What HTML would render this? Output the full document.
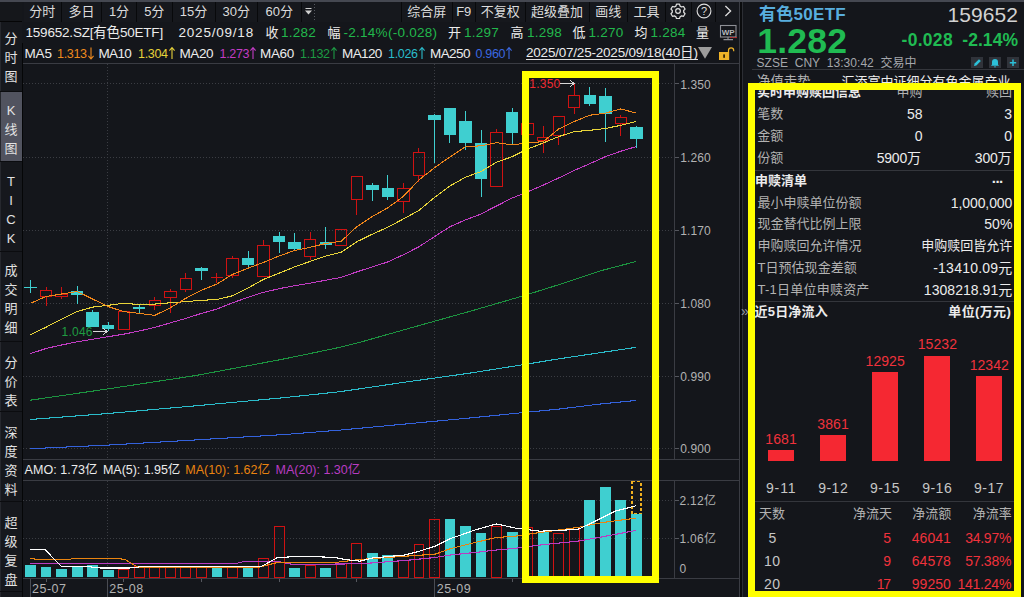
<!DOCTYPE html><html lang="zh"><head><meta charset="utf-8"><title>159652.SZ</title><style>
*{margin:0;padding:0;box-sizing:border-box}
html,body{width:1024px;height:597px;overflow:hidden;background:#14161b}
body{position:relative;font-family:"Liberation Sans","Noto Sans CJK SC",sans-serif;font-size:13px;color:#e6e6e6;line-height:1}
.abs{position:absolute}
.t{position:absolute;white-space:nowrap;line-height:16px;height:16px}
.g{color:#22b84c}.w{color:#ececec}.gy{color:#b2b2b2}.rd{color:#f0323c}
.side{position:absolute;left:0;width:22px;text-align:center;font-size:13px;line-height:19.2px;color:#e2e2e2}
.tb{position:absolute;top:2px;height:20px;line-height:19px;font-size:13px;color:#dcdcdc;text-align:center;border-right:1.5px solid #08090b}
.r{position:absolute;white-space:nowrap;line-height:16px;height:16px;text-align:right}
</style></head><body>
<div class="abs" style="left:0;top:0;width:1024px;height:1.5px;background:#454851"></div>
<div class="abs" style="left:0;top:1.5px;width:22px;height:596px;background:#16181d;border-left:1px solid #26282e"></div>
<div class="abs" style="left:22px;top:43px;width:1px;height:554px;background:#050607"></div>
<div class="abs" style="left:0;top:1.5px;width:22px;height:20px;background:#15171b;border-bottom:1.5px solid #050506"></div>
<div class="abs" style="left:1px;top:92px;width:21px;height:69px;background:#51535f"></div>
<div class="abs" style="left:0;top:91px;width:22px;height:1px;background:#0b0c0f"></div>
<div class="abs" style="left:0;top:161px;width:22px;height:1px;background:#0b0c0f"></div>
<div class="abs" style="left:0;top:251px;width:22px;height:1px;background:#0b0c0f"></div>
<div class="abs" style="left:0;top:341px;width:22px;height:1px;background:#0b0c0f"></div>
<div class="abs" style="left:0;top:411px;width:22px;height:1px;background:#0b0c0f"></div>
<div class="abs" style="left:0;top:501px;width:22px;height:1px;background:#0b0c0f"></div>
<div class="abs" style="left:0;top:591px;width:22px;height:1px;background:#0b0c0f"></div>
<div class="side" style="top:28.7px">分</div>
<div class="side" style="top:48.0px">时</div>
<div class="side" style="top:67.2px">图</div>
<div class="side" style="top:100.8px">K</div>
<div class="side" style="top:119.7px">线</div>
<div class="side" style="top:138.7px">图</div>
<div class="side" style="top:171.8px">T</div>
<div class="side" style="top:191.0px">I</div>
<div class="side" style="top:210.2px">C</div>
<div class="side" style="top:229.4px">K</div>
<div class="side" style="top:260.7px">成</div>
<div class="side" style="top:279.9px">交</div>
<div class="side" style="top:299.1px">明</div>
<div class="side" style="top:318.3px">细</div>
<div class="side" style="top:352.7px">分</div>
<div class="side" style="top:371.9px">价</div>
<div class="side" style="top:391.1px">表</div>
<div class="side" style="top:422.7px">深</div>
<div class="side" style="top:441.9px">度</div>
<div class="side" style="top:461.1px">资</div>
<div class="side" style="top:480.3px">料</div>
<div class="side" style="top:512.7px">超</div>
<div class="side" style="top:531.9px">级</div>
<div class="side" style="top:551.1px">复</div>
<div class="side" style="top:570.3px">盘</div>
<div class="abs" style="left:23.5px;top:1.5px;width:716px;height:20.5px;background:#16181d"></div>
<div class="tb" style="left:23.5px;width:38.5px">分时</div>
<div class="tb" style="left:62px;width:40px">多日</div>
<div class="tb" style="left:102px;width:35px">1分</div>
<div class="tb" style="left:137px;width:35.5px">5分</div>
<div class="tb" style="left:172.5px;width:43.0px">15分</div>
<div class="tb" style="left:215.5px;width:42.5px">30分</div>
<div class="tb" style="left:258px;width:43.5px">60分</div>
<svg class="abs" style="left:302px;top:4px" width="16" height="16"><path d="M3.5 4.5h6" stroke="#d0d0d0" stroke-width="1"/><path d="M3 6.5h7L6.5 10.5z" fill="#d0d0d0"/><line x1="12.5" y1="0" x2="12.5" y2="16" stroke="#55585f" stroke-dasharray="1 2"/></svg>
<div class="abs" style="left:400.5px;top:2px;width:1.5px;height:20px;background:#08090b"></div>
<div class="tb" style="left:402px;width:50.5px">综合屏</div>
<div class="tb" style="left:452.5px;width:23.5px">F9</div>
<div class="tb" style="left:476px;width:49.5px">不复权</div>
<div class="tb" style="left:525.5px;width:64.0px">超级叠加</div>
<div class="tb" style="left:589.5px;width:38.5px">画线</div>
<div class="tb" style="left:628px;width:38px">工具</div>
<div class="tb" style="left:666px;width:25.5px"></div>
<div class="tb" style="left:691.5px;width:24.0px"></div>
<svg class="abs" style="left:670px;top:3px" width="16" height="16" viewBox="-8 -8 16 16"><path fill="none" stroke="#dedede" stroke-width="1.25" stroke-linejoin="round" d="M-1.5-6.8h3l.6 1.9 1.5.85 1.95-.45 1.5 2.6-1.35 1.45v1.7l1.35 1.45-1.5 2.6-1.95-.45-1.5.85-.6 1.9h-3l-.6-1.9-1.5-.85-1.95.45-1.5-2.6 1.35-1.45v-1.7l-1.35-1.45 1.5-2.6 1.95.45 1.5-.85z"/><circle r="2.3" fill="none" stroke="#dedede" stroke-width="1.25"/></svg>
<svg class="abs" style="left:696px;top:3px" width="16" height="16" viewBox="-8 -8 16 16"><circle r="6.9" fill="none" stroke="#dedede" stroke-width="1.1"/><text x="0" y="4" text-anchor="middle" font-family="Liberation Sans, sans-serif" font-size="11" fill="#dedede">?</text></svg>
<svg class="abs" style="left:720px;top:3px" width="16" height="16" viewBox="-8 -8 16 16"><path d="M-2.6-5l5.2 5-5.2 5" fill="none" stroke="#dedede" stroke-width="1.3"/></svg>
<div class="t w" style="left:25.5px;top:25.2px;font-size:13.5px;letter-spacing:-0.20px;">159652.SZ[有色50ETF]</div>
<div class="t w" style="left:178.5px;top:25.2px;font-size:13.5px;letter-spacing:0.79px;">2025/09/18</div>
<div class="t w" style="left:265.5px;top:25.2px;font-size:13px;">收</div>
<div class="t g" style="left:281.0px;top:25.2px;font-size:13.5px;letter-spacing:0.24px;">1.282</div>
<div class="t w" style="left:327.5px;top:25.2px;font-size:13px;">幅</div>
<div class="t g" style="left:343.5px;top:25.2px;font-size:13.5px;letter-spacing:0.27px;">-2.14%(-0.028)</div>
<div class="t w" style="left:448.0px;top:25.2px;font-size:13px;">开</div>
<div class="t g" style="left:464.0px;top:25.2px;font-size:13.5px;letter-spacing:0.24px;">1.297</div>
<div class="t w" style="left:510.5px;top:25.2px;font-size:13px;">高</div>
<div class="t g" style="left:527.0px;top:25.2px;font-size:13.5px;letter-spacing:0.24px;">1.298</div>
<div class="t w" style="left:572.5px;top:25.2px;font-size:13px;">低</div>
<div class="t g" style="left:588.5px;top:25.2px;font-size:13.5px;letter-spacing:0.24px;">1.270</div>
<div class="t w" style="left:634.5px;top:25.2px;font-size:13px;">均</div>
<div class="t g" style="left:650.5px;top:25.2px;font-size:13.5px;letter-spacing:0.24px;">1.284</div>
<div class="t w" style="left:696.0px;top:25.2px;font-size:13px;">量</div>
<div class="t w" style="left:24.5px;top:45.8px;font-size:13.5px;letter-spacing:-0.13px;">MA5</div>
<div class="t " style="left:57.0px;top:45.8px;font-size:12.5px;letter-spacing:-0.32px;color:#ee8a1e">1.313</div>
<svg class="abs" style="left:87.5px;top:46.3px" width="6" height="15"><path d="M3 1.5V13M0.4 9.9L3 13L5.6 9.9" fill="none" stroke="#ee8a1e" stroke-width="1.1"/></svg>
<div class="t w" style="left:98.5px;top:45.8px;font-size:13.5px;letter-spacing:-0.66px;">MA10</div>
<div class="t " style="left:138.0px;top:45.8px;font-size:12.5px;letter-spacing:-0.32px;color:#e6d23a">1.304</div>
<svg class="abs" style="left:168.5px;top:46.3px" width="6" height="15"><path d="M3 1.5V13M0.4 4.6L3 1.5L5.6 4.6" fill="none" stroke="#e6d23a" stroke-width="1.1"/></svg>
<div class="t w" style="left:179.5px;top:45.8px;font-size:13.5px;letter-spacing:-0.43px;">MA20</div>
<div class="t " style="left:219.5px;top:45.8px;font-size:12.5px;letter-spacing:-0.32px;color:#c23cc4">1.273</div>
<svg class="abs" style="left:250.0px;top:46.3px" width="6" height="15"><path d="M3 1.5V13M0.4 4.6L3 1.5L5.6 4.6" fill="none" stroke="#c23cc4" stroke-width="1.1"/></svg>
<div class="t w" style="left:260.0px;top:45.8px;font-size:13.5px;letter-spacing:-0.33px;">MA60</div>
<div class="t " style="left:300.0px;top:45.8px;font-size:12.5px;letter-spacing:-0.32px;color:#1d9a44">1.132</div>
<svg class="abs" style="left:330.5px;top:46.3px" width="6" height="15"><path d="M3 1.5V13M0.4 4.6L3 1.5L5.6 4.6" fill="none" stroke="#1d9a44" stroke-width="1.1"/></svg>
<div class="t w" style="left:342.0px;top:45.8px;font-size:13.5px;letter-spacing:-0.62px;">MA120</div>
<div class="t " style="left:388.0px;top:45.8px;font-size:12.5px;letter-spacing:-0.32px;color:#2bbccb">1.026</div>
<svg class="abs" style="left:418.5px;top:46.3px" width="6" height="15"><path d="M3 1.5V13M0.4 4.6L3 1.5L5.6 4.6" fill="none" stroke="#2bbccb" stroke-width="1.1"/></svg>
<div class="t w" style="left:430.0px;top:45.8px;font-size:13.5px;letter-spacing:-0.57px;">MA250</div>
<div class="t " style="left:475.5px;top:45.8px;font-size:12.5px;letter-spacing:-0.32px;color:#3b68e0">0.960</div>
<svg class="abs" style="left:506.0px;top:46.3px" width="6" height="15"><path d="M3 1.5V13M0.4 4.6L3 1.5L5.6 4.6" fill="none" stroke="#3b68e0" stroke-width="1.1"/></svg>
<div class="t w" style="left:526.0px;top:45.2px;font-size:13.5px;letter-spacing:-0.21px;border-bottom:1px solid #e0e0e0;height:15px;line-height:15px">2025/07/25-2025/09/18(40日)</div>
<svg class="abs" style="left:719px;top:24px" width="20" height="18"><rect x="1.5" y="1.5" width="15.5" height="11.5" fill="none" stroke="#8e9096" stroke-width="1.1"/><text x="9.2" y="10.6" text-anchor="middle" font-family="Liberation Sans, sans-serif" font-weight="bold" font-size="8" fill="#b6b8bd">WP</text><path d="M9 13v2.3M4.5 15.6h9.5" stroke="#8e9096" stroke-width="1.1"/><path d="M11 13.6h7" stroke="#e02020" stroke-width="1" stroke-dasharray="1.6 1"/></svg>
<svg class="abs" style="left:697px;top:46px" width="44" height="16"><path d="M1 1h14l-7 11.8z" fill="#9c9c9c"/><rect x="22" y="6" width="10.2" height="8" fill="#f0b428"/><rect x="26.2" y="8.4" width="1.8" height="3.4" fill="#3a2a08"/><path d="M31.5 6V4.4a2.6 2.6 0 0 1 5.2 0V5.2" fill="none" stroke="#f0b428" stroke-width="1.2"/></svg>
<svg class="abs" style="left:0;top:0" width="742" height="597" viewBox="0 0 742 597"><g shape-rendering="crispEdges">
<line x1="23" y1="83.5" x2="674" y2="83.5" stroke="#3b3d43" stroke-width="1" stroke-dasharray="1 2"/>
<line x1="674" y1="83.5" x2="679" y2="83.5" stroke="#55575e" stroke-width="1"/>
<line x1="23" y1="157.5" x2="674" y2="157.5" stroke="#3b3d43" stroke-width="1" stroke-dasharray="1 2"/>
<line x1="674" y1="157.5" x2="679" y2="157.5" stroke="#55575e" stroke-width="1"/>
<line x1="23" y1="230.5" x2="674" y2="230.5" stroke="#3b3d43" stroke-width="1" stroke-dasharray="1 2"/>
<line x1="674" y1="230.5" x2="679" y2="230.5" stroke="#55575e" stroke-width="1"/>
<line x1="23" y1="303.5" x2="674" y2="303.5" stroke="#3b3d43" stroke-width="1" stroke-dasharray="1 2"/>
<line x1="674" y1="303.5" x2="679" y2="303.5" stroke="#55575e" stroke-width="1"/>
<line x1="23" y1="376.5" x2="674" y2="376.5" stroke="#3b3d43" stroke-width="1" stroke-dasharray="1 2"/>
<line x1="674" y1="376.5" x2="679" y2="376.5" stroke="#55575e" stroke-width="1"/>
<line x1="23" y1="448.5" x2="674" y2="448.5" stroke="#3b3d43" stroke-width="1" stroke-dasharray="1 2"/>
<line x1="674" y1="448.5" x2="679" y2="448.5" stroke="#55575e" stroke-width="1"/>
<line x1="23" y1="500.5" x2="674" y2="500.5" stroke="#3b3d43" stroke-width="1" stroke-dasharray="1 2"/>
<line x1="674" y1="500.5" x2="679" y2="500.5" stroke="#55575e" stroke-width="1"/>
<line x1="23" y1="538.5" x2="674" y2="538.5" stroke="#3b3d43" stroke-width="1" stroke-dasharray="1 2"/>
<line x1="674" y1="538.5" x2="679" y2="538.5" stroke="#55575e" stroke-width="1"/>
<line x1="107.5" y1="64" x2="107.5" y2="458" stroke="#3b3d43" stroke-width="1" stroke-dasharray="1 2"/>
<line x1="107.5" y1="481" x2="107.5" y2="577" stroke="#3b3d43" stroke-width="1" stroke-dasharray="1 2"/>
<line x1="434.5" y1="64" x2="434.5" y2="458" stroke="#3b3d43" stroke-width="1" stroke-dasharray="1 2"/>
<line x1="434.5" y1="481" x2="434.5" y2="577" stroke="#3b3d43" stroke-width="1" stroke-dasharray="1 2"/>
<line x1="23" y1="63.5" x2="739" y2="63.5" stroke="#3a3c43"/>
<line x1="23" y1="459.5" x2="739" y2="459.5" stroke="#3a3c43"/>
<line x1="23" y1="480.5" x2="739" y2="480.5" stroke="#3a3c43"/>
<line x1="23" y1="578.5" x2="739" y2="578.5" stroke="#3a3c43"/>
<line x1="674.5" y1="64" x2="674.5" y2="459" stroke="#3a3c43"/>
<line x1="674.5" y1="481" x2="674.5" y2="578" stroke="#3a3c43"/>
<line x1="46.0" y1="579" x2="46.0" y2="582" stroke="#55575e"/>
<line x1="123.7" y1="579" x2="123.7" y2="582" stroke="#55575e"/>
<line x1="201.4" y1="579" x2="201.4" y2="582" stroke="#55575e"/>
<line x1="279.1" y1="579" x2="279.1" y2="582" stroke="#55575e"/>
<line x1="356.7" y1="579" x2="356.7" y2="582" stroke="#55575e"/>
<line x1="512.1" y1="579" x2="512.1" y2="582" stroke="#55575e"/>
<line x1="589.8" y1="579" x2="589.8" y2="582" stroke="#55575e"/>
<line x1="30.5" y1="579" x2="30.5" y2="597" stroke="#4a4c53"/>
<line x1="107.5" y1="579" x2="107.5" y2="597" stroke="#4a4c53"/>
<line x1="434.5" y1="579" x2="434.5" y2="597" stroke="#4a4c53"/>
<polyline fill="none" stroke="#3462dc" stroke-width="1.05" stroke-linejoin="round" points="30.5,448.7 107.9,445.1 195.8,439.9 283.7,434.6 340.0,430.1 405.4,424.0 470.7,417.9 523.0,412.6 557.9,409.2 601.4,403.9 636.3,400.4"/>
<polyline fill="none" stroke="#2bbccb" stroke-width="1.05" stroke-linejoin="round" points="30.5,419.5 107.9,413.5 195.8,405.8 283.7,397.7 340.0,391.7 405.4,382.1 470.7,373.0 523.0,364.7 557.9,359.0 601.4,352.5 636.3,347.3"/>
<polyline fill="none" stroke="#1c9440" stroke-width="1.05" stroke-linejoin="round" points="30.1,400.2 107.9,388.9 195.8,375.5 283.7,359.0 340.0,347.3 360.0,342.3 405.4,329.4 470.7,311.1 523.0,295.9 557.9,285.0 601.4,270.6 636.3,261.4"/>
<polyline fill="none" stroke="#c23cc4" stroke-width="1.05" stroke-linejoin="round" points="30.5,353.6 46.0,348.5 61.6,345.0 77.1,341.8 92.6,339.2 108.2,336.7 123.7,334.2 139.2,331.0 154.8,327.4 170.3,322.9 185.8,318.4 201.4,313.4 216.9,309.1 232.5,302.8 248.0,297.3 263.5,292.3 279.1,288.7 294.6,285.7 310.1,283.2 325.7,280.2 341.2,277.4 356.7,271.9 372.3,266.9 387.8,261.9 403.3,254.8 418.9,246.8 434.4,236.7 449.9,226.7 465.5,219.9 481.0,214.0 496.6,205.9 512.1,198.1 527.6,191.9 543.2,185.1 558.7,178.0 574.2,170.5 589.8,163.7 605.3,156.7 620.8,151.2 636.4,146.6"/>
<g shape-rendering="crispEdges">
<line x1="30.5" y1="280.2" x2="30.5" y2="292.8" stroke="#3fcfd0" stroke-width="1"/>
<rect x="24.3" y="286.6" width="12.4" height="1.0" fill="#3fcfd0"/>
<line x1="46.0" y1="286.5" x2="46.0" y2="290.3" stroke="#cf1212" stroke-width="1"/>
<line x1="46.0" y1="297.3" x2="46.0" y2="305.8" stroke="#cf1212" stroke-width="1"/>
<rect x="40.3" y="290.8" width="11.4" height="6.0" fill="none" stroke="#cf1212" stroke-width="1"/>
<line x1="61.6" y1="287.2" x2="61.6" y2="293.5" stroke="#cf1212" stroke-width="1"/>
<line x1="61.6" y1="296.5" x2="61.6" y2="299.0" stroke="#cf1212" stroke-width="1"/>
<rect x="55.9" y="294.0" width="11.4" height="2.0" fill="none" stroke="#cf1212" stroke-width="1"/>
<line x1="77.1" y1="286.0" x2="77.1" y2="303.6" stroke="#3fcfd0" stroke-width="1"/>
<rect x="70.9" y="291.0" width="12.4" height="3.5" fill="#3fcfd0"/>
<line x1="92.6" y1="310.4" x2="92.6" y2="327.2" stroke="#3fcfd0" stroke-width="1"/>
<rect x="86.4" y="312.1" width="12.4" height="15.1" fill="#3fcfd0"/>
<line x1="108.2" y1="321.7" x2="108.2" y2="331.0" stroke="#3fcfd0" stroke-width="1"/>
<rect x="102.0" y="325.4" width="12.4" height="3.6" fill="#3fcfd0"/>
<rect x="118.0" y="311.6" width="11.4" height="17.6" fill="none" stroke="#cf1212" stroke-width="1"/>
<line x1="139.2" y1="304.6" x2="139.2" y2="312.5" stroke="#3fcfd0" stroke-width="1"/>
<rect x="133.0" y="307.4" width="12.4" height="1.2" fill="#3fcfd0"/>
<line x1="154.8" y1="297.3" x2="154.8" y2="299.5" stroke="#cf1212" stroke-width="1"/>
<line x1="154.8" y1="305.8" x2="154.8" y2="309.6" stroke="#cf1212" stroke-width="1"/>
<rect x="149.1" y="300.0" width="11.4" height="5.3" fill="none" stroke="#cf1212" stroke-width="1"/>
<line x1="170.3" y1="289.0" x2="170.3" y2="290.5" stroke="#cf1212" stroke-width="1"/>
<line x1="170.3" y1="298.3" x2="170.3" y2="312.9" stroke="#cf1212" stroke-width="1"/>
<rect x="164.6" y="291.0" width="11.4" height="6.8" fill="none" stroke="#cf1212" stroke-width="1"/>
<line x1="185.8" y1="273.2" x2="185.8" y2="278.4" stroke="#cf1212" stroke-width="1"/>
<line x1="185.8" y1="289.5" x2="185.8" y2="292.0" stroke="#cf1212" stroke-width="1"/>
<rect x="180.2" y="278.9" width="11.4" height="10.1" fill="none" stroke="#cf1212" stroke-width="1"/>
<line x1="201.4" y1="267.1" x2="201.4" y2="279.7" stroke="#3fcfd0" stroke-width="1"/>
<rect x="195.2" y="268.1" width="12.4" height="3.1" fill="#3fcfd0"/>
<line x1="216.9" y1="273.2" x2="216.9" y2="276.6" stroke="#cf1212" stroke-width="1"/>
<line x1="216.9" y1="277.4" x2="216.9" y2="282.7" stroke="#cf1212" stroke-width="1"/>
<line x1="210.7" y1="277.0" x2="223.1" y2="277.0" stroke="#cf1212" stroke-width="1"/>
<line x1="232.5" y1="255.8" x2="232.5" y2="257.6" stroke="#cf1212" stroke-width="1"/>
<line x1="232.5" y1="275.7" x2="232.5" y2="277.7" stroke="#cf1212" stroke-width="1"/>
<rect x="226.8" y="258.1" width="11.4" height="17.1" fill="none" stroke="#cf1212" stroke-width="1"/>
<line x1="248.0" y1="251.2" x2="248.0" y2="266.9" stroke="#3fcfd0" stroke-width="1"/>
<rect x="241.8" y="258.1" width="12.4" height="6.6" fill="#3fcfd0"/>
<line x1="263.5" y1="240.0" x2="263.5" y2="245.2" stroke="#cf1212" stroke-width="1"/>
<rect x="257.8" y="245.7" width="11.4" height="30.4" fill="none" stroke="#cf1212" stroke-width="1"/>
<line x1="279.1" y1="232.2" x2="279.1" y2="253.0" stroke="#3fcfd0" stroke-width="1"/>
<rect x="272.9" y="236.0" width="12.4" height="5.8" fill="#3fcfd0"/>
<line x1="294.6" y1="233.0" x2="294.6" y2="250.5" stroke="#3fcfd0" stroke-width="1"/>
<rect x="288.4" y="241.8" width="12.4" height="6.7" fill="#3fcfd0"/>
<line x1="310.1" y1="232.2" x2="310.1" y2="239.2" stroke="#cf1212" stroke-width="1"/>
<line x1="310.1" y1="257.3" x2="310.1" y2="260.0" stroke="#cf1212" stroke-width="1"/>
<rect x="304.4" y="239.7" width="11.4" height="17.1" fill="none" stroke="#cf1212" stroke-width="1"/>
<line x1="325.7" y1="226.7" x2="325.7" y2="249.3" stroke="#3fcfd0" stroke-width="1"/>
<rect x="319.5" y="241.8" width="12.4" height="3.0" fill="#3fcfd0"/>
<rect x="335.5" y="229.7" width="11.4" height="16.1" fill="none" stroke="#cf1212" stroke-width="1"/>
<line x1="356.7" y1="200.3" x2="356.7" y2="215.4" stroke="#cf1212" stroke-width="1"/>
<rect x="351.0" y="176.9" width="11.4" height="22.9" fill="none" stroke="#cf1212" stroke-width="1"/>
<line x1="372.3" y1="182.7" x2="372.3" y2="200.8" stroke="#3fcfd0" stroke-width="1"/>
<rect x="366.1" y="185.2" width="12.4" height="4.5" fill="#3fcfd0"/>
<line x1="387.8" y1="175.2" x2="387.8" y2="199.8" stroke="#3fcfd0" stroke-width="1"/>
<rect x="381.6" y="187.7" width="12.4" height="9.1" fill="#3fcfd0"/>
<line x1="403.3" y1="183.1" x2="403.3" y2="188.2" stroke="#cf1212" stroke-width="1"/>
<line x1="403.3" y1="202.3" x2="403.3" y2="212.7" stroke="#cf1212" stroke-width="1"/>
<rect x="397.6" y="188.7" width="11.4" height="13.1" fill="none" stroke="#cf1212" stroke-width="1"/>
<line x1="418.9" y1="148.0" x2="418.9" y2="152.1" stroke="#cf1212" stroke-width="1"/>
<line x1="418.9" y1="176.2" x2="418.9" y2="181.5" stroke="#cf1212" stroke-width="1"/>
<rect x="413.2" y="152.6" width="11.4" height="23.1" fill="none" stroke="#cf1212" stroke-width="1"/>
<line x1="434.4" y1="114.0" x2="434.4" y2="163.0" stroke="#3fcfd0" stroke-width="1"/>
<rect x="428.2" y="115.2" width="12.4" height="4.5" fill="#3fcfd0"/>
<line x1="449.9" y1="108.2" x2="449.9" y2="142.9" stroke="#3fcfd0" stroke-width="1"/>
<rect x="443.7" y="108.2" width="12.4" height="26.4" fill="#3fcfd0"/>
<line x1="465.5" y1="111.0" x2="465.5" y2="150.4" stroke="#3fcfd0" stroke-width="1"/>
<rect x="459.3" y="121.0" width="12.4" height="21.9" fill="#3fcfd0"/>
<line x1="481.0" y1="129.8" x2="481.0" y2="196.9" stroke="#3fcfd0" stroke-width="1"/>
<rect x="474.8" y="143.4" width="12.4" height="35.1" fill="#3fcfd0"/>
<line x1="496.6" y1="129.0" x2="496.6" y2="132.3" stroke="#cf1212" stroke-width="1"/>
<rect x="490.9" y="132.8" width="11.4" height="54.0" fill="none" stroke="#cf1212" stroke-width="1"/>
<line x1="512.1" y1="107.7" x2="512.1" y2="144.1" stroke="#3fcfd0" stroke-width="1"/>
<rect x="505.9" y="112.0" width="12.4" height="21.3" fill="#3fcfd0"/>
<line x1="527.6" y1="120.0" x2="527.6" y2="123.3" stroke="#cf1212" stroke-width="1"/>
<line x1="527.6" y1="134.6" x2="527.6" y2="138.0" stroke="#cf1212" stroke-width="1"/>
<rect x="521.9" y="123.8" width="11.4" height="10.3" fill="none" stroke="#cf1212" stroke-width="1"/>
<line x1="543.2" y1="125.8" x2="543.2" y2="137.3" stroke="#cf1212" stroke-width="1"/>
<line x1="543.2" y1="140.9" x2="543.2" y2="152.9" stroke="#cf1212" stroke-width="1"/>
<rect x="537.5" y="137.8" width="11.4" height="2.6" fill="none" stroke="#cf1212" stroke-width="1"/>
<line x1="558.7" y1="136.1" x2="558.7" y2="144.9" stroke="#cf1212" stroke-width="1"/>
<rect x="553.0" y="116.7" width="11.4" height="18.9" fill="none" stroke="#cf1212" stroke-width="1"/>
<line x1="574.2" y1="83.0" x2="574.2" y2="95.1" stroke="#cf1212" stroke-width="1"/>
<line x1="574.2" y1="108.4" x2="574.2" y2="114.0" stroke="#cf1212" stroke-width="1"/>
<rect x="568.5" y="95.6" width="11.4" height="12.3" fill="none" stroke="#cf1212" stroke-width="1"/>
<line x1="589.8" y1="87.1" x2="589.8" y2="105.9" stroke="#3fcfd0" stroke-width="1"/>
<rect x="583.6" y="95.1" width="12.4" height="8.8" fill="#3fcfd0"/>
<line x1="605.3" y1="88.1" x2="605.3" y2="142.1" stroke="#3fcfd0" stroke-width="1"/>
<rect x="599.1" y="95.9" width="12.4" height="17.6" fill="#3fcfd0"/>
<line x1="620.8" y1="114.7" x2="620.8" y2="116.5" stroke="#cf1212" stroke-width="1"/>
<line x1="620.8" y1="123.5" x2="620.8" y2="135.8" stroke="#cf1212" stroke-width="1"/>
<rect x="615.1" y="117.0" width="11.4" height="6.0" fill="none" stroke="#cf1212" stroke-width="1"/>
<line x1="636.4" y1="125.8" x2="636.4" y2="148.4" stroke="#3fcfd0" stroke-width="1"/>
<rect x="630.2" y="127.3" width="12.4" height="11.3" fill="#3fcfd0"/>
</g>
<polyline fill="none" stroke="#e9d53a" stroke-width="1.05" stroke-linejoin="round" points="30.5,334.7 46.0,327.2 61.6,319.1 77.1,311.6 92.6,307.1 108.2,305.3 123.7,303.3 139.2,304.6 154.8,304.1 170.3,302.8 185.8,301.6 201.4,300.3 216.9,299.5 232.5,295.8 248.0,288.0 263.5,279.4 279.1,273.2 294.6,266.9 310.1,261.4 325.7,256.1 341.2,252.3 356.7,241.8 372.3,234.2 387.8,227.2 403.3,219.0 418.9,210.5 434.4,197.5 449.9,186.0 465.5,177.2 481.0,171.6 496.6,162.2 512.1,156.7 527.6,149.1 543.2,142.9 558.7,136.6 574.2,131.6 589.8,130.3 605.3,128.5 620.8,125.3 636.4,121.5"/>
<polyline fill="none" stroke="#f0861a" stroke-width="1.05" stroke-linejoin="round" points="30.5,303.3 46.0,296.5 61.6,294.0 77.1,291.5 92.6,299.0 108.2,306.6 123.7,311.6 139.2,313.4 154.8,315.4 170.3,307.8 185.8,298.3 201.4,290.3 216.9,284.0 232.5,274.4 248.0,268.2 263.5,262.4 279.1,256.0 294.6,250.5 310.1,247.3 325.7,243.5 341.2,241.3 356.7,226.7 372.3,216.6 387.8,207.8 403.3,196.5 418.9,180.0 434.4,167.8 449.9,157.0 465.5,146.8 481.0,145.8 496.6,142.7 512.1,144.9 527.6,142.9 543.2,141.6 558.7,129.0 574.2,121.5 589.8,115.2 605.3,113.2 620.8,108.9 636.4,113.2"/>
<path d="M92.5 331.5H107M103 328l4 3.5l-4 3.5" fill="none" stroke="#d8d8d8" stroke-width="1"/>
<path d="M559.5 83.5H574M570 80l4 3.5l-4 3.5" fill="none" stroke="#d8d8d8" stroke-width="1"/>
<g shape-rendering="crispEdges">
<rect x="25.1" y="565.0" width="10.8" height="12.0" fill="#3fcfd0"/>
<rect x="40.6" y="566.8" width="10.8" height="10.2" fill="#3fcfd0"/>
<rect x="56.2" y="569.0" width="10.8" height="8.0" fill="#3fcfd0"/>
<rect x="71.7" y="566.8" width="10.8" height="10.2" fill="#3fcfd0"/>
<rect x="87.2" y="565.0" width="10.8" height="12.0" fill="#3fcfd0"/>
<rect x="102.8" y="570.0" width="10.8" height="7.0" fill="#3fcfd0"/>
<rect x="118.8" y="569.8" width="9.8" height="7.2" fill="none" stroke="#cf1212" stroke-width="1"/>
<rect x="134.3" y="566.0" width="9.8" height="11.0" fill="none" stroke="#cf1212" stroke-width="1"/>
<rect x="149.9" y="566.8" width="9.8" height="10.2" fill="none" stroke="#cf1212" stroke-width="1"/>
<rect x="165.4" y="567.5" width="9.8" height="9.5" fill="none" stroke="#cf1212" stroke-width="1"/>
<rect x="180.9" y="567.5" width="9.8" height="9.5" fill="none" stroke="#cf1212" stroke-width="1"/>
<rect x="196.5" y="567.5" width="9.8" height="9.5" fill="none" stroke="#cf1212" stroke-width="1"/>
<rect x="211.5" y="567.5" width="10.8" height="9.5" fill="#3fcfd0"/>
<rect x="227.6" y="567.5" width="9.8" height="9.5" fill="none" stroke="#cf1212" stroke-width="1"/>
<rect x="242.6" y="567.5" width="10.8" height="9.5" fill="#3fcfd0"/>
<rect x="258.6" y="558.0" width="9.8" height="19.0" fill="none" stroke="#cf1212" stroke-width="1"/>
<rect x="274.2" y="526.8" width="9.8" height="50.2" fill="none" stroke="#cf1212" stroke-width="1"/>
<rect x="289.2" y="568.0" width="10.8" height="9.0" fill="#3fcfd0"/>
<rect x="305.2" y="565.0" width="9.8" height="12.0" fill="none" stroke="#cf1212" stroke-width="1"/>
<rect x="320.3" y="568.0" width="10.8" height="9.0" fill="#3fcfd0"/>
<rect x="336.3" y="563.8" width="9.8" height="13.2" fill="none" stroke="#cf1212" stroke-width="1"/>
<rect x="351.8" y="543.8" width="9.8" height="33.2" fill="none" stroke="#cf1212" stroke-width="1"/>
<rect x="366.9" y="553.0" width="10.8" height="24.0" fill="#3fcfd0"/>
<rect x="382.4" y="555.0" width="10.8" height="22.0" fill="#3fcfd0"/>
<rect x="398.4" y="560.5" width="9.8" height="16.5" fill="none" stroke="#cf1212" stroke-width="1"/>
<rect x="414.0" y="544.8" width="9.8" height="32.2" fill="none" stroke="#cf1212" stroke-width="1"/>
<rect x="429.5" y="519.8" width="9.8" height="57.2" fill="none" stroke="#cf1212" stroke-width="1"/>
<rect x="444.5" y="518.8" width="10.8" height="58.2" fill="#3fcfd0"/>
<rect x="460.1" y="525.8" width="10.8" height="51.2" fill="#3fcfd0"/>
<rect x="475.6" y="532.5" width="10.8" height="44.5" fill="#3fcfd0"/>
<rect x="491.7" y="526.8" width="9.8" height="50.2" fill="none" stroke="#cf1212" stroke-width="1"/>
<rect x="506.7" y="531.8" width="10.8" height="45.2" fill="#3fcfd0"/>
<rect x="522.7" y="527.5" width="9.8" height="49.5" fill="none" stroke="#cf1212" stroke-width="1"/>
<rect x="537.8" y="531.2" width="10.8" height="45.8" fill="#3fcfd0"/>
<rect x="553.8" y="533.8" width="9.8" height="43.2" fill="none" stroke="#cf1212" stroke-width="1"/>
<rect x="569.3" y="529.2" width="9.8" height="47.8" fill="none" stroke="#cf1212" stroke-width="1"/>
<rect x="584.4" y="500.0" width="10.8" height="77.0" fill="#3fcfd0"/>
<rect x="599.9" y="486.8" width="10.8" height="90.2" fill="#3fcfd0"/>
<rect x="615.4" y="500.0" width="10.8" height="77.0" fill="#3fcfd0"/>
<rect x="631.0" y="513.8" width="10.8" height="63.2" fill="#3fcfd0"/>
<rect x="632" y="481.5" width="9" height="32" fill="none" stroke="#f0b020" stroke-width="1.3" stroke-dasharray="3 2"/>
</g>
<polyline fill="none" stroke="#b93cc2" stroke-width="1.1" stroke-linejoin="round" points="30.0,563.2 237.5,563.2 242.5,561.8 265.0,561.8 277.5,561.2 292.5,564.5 360.0,563.8 405.0,560.5 435.0,557.5 450.0,555.0 475.0,552.5 496.2,550.0 516.0,548.2 540.0,545.0 577.5,541.2 602.5,536.8 635.8,530.5"/>
<polyline fill="none" stroke="#ea8410" stroke-width="1.1" stroke-linejoin="round" points="30.0,558.2 37.5,559.5 70.0,559.5 72.5,558.2 115.0,558.2 125.0,559.5 137.5,567.0 260.0,567.0 277.5,562.5 335.0,562.5 360.0,559.5 405.0,556.2 435.0,554.2 450.0,548.8 475.0,542.5 496.2,537.5 515.0,536.2 540.0,532.5 577.5,527.5 602.5,522.5 635.8,518.2"/>
<polyline fill="none" stroke="#ffffff" stroke-width="1.1" stroke-linejoin="round" points="30.0,549.2 45.0,549.2 53.0,558.0 61.2,566.2 85.0,566.2 100.0,568.0 130.0,568.0 145.0,566.2 160.0,566.8 260.0,566.8 264.0,565.0 277.5,557.5 305.0,556.2 335.0,557.5 345.0,559.5 360.0,561.2 372.5,558.0 405.0,555.0 420.0,551.0 435.0,546.2 450.0,538.8 475.0,530.0 496.2,523.9 515.0,528.0 540.0,531.2 577.5,529.5 590.0,523.8 615.0,511.2 635.8,505.8"/>
<rect x="525.7" y="74.6" width="129.8" height="504.8" fill="none" stroke="#ffff00" stroke-width="7.4"/>
</svg>
<div class="t gy" style="left:680.2px;top:76.5px;font-size:12px;letter-spacing:0.14px;">1.350</div>
<div class="t gy" style="left:680.2px;top:150.4px;font-size:12px;letter-spacing:0.14px;">1.260</div>
<div class="t gy" style="left:680.2px;top:223.4px;font-size:12px;letter-spacing:0.14px;">1.170</div>
<div class="t gy" style="left:680.2px;top:296.3px;font-size:12px;letter-spacing:0.14px;">1.080</div>
<div class="t gy" style="left:680.2px;top:369.3px;font-size:12px;letter-spacing:0.14px;">0.990</div>
<div class="t gy" style="left:680.2px;top:441.2px;font-size:12px;letter-spacing:0.14px;">0.900</div>
<div class="t gy" style="left:679.5px;top:493.3px;font-size:12px;letter-spacing:0.29px;">2.12亿</div>
<div class="t gy" style="left:679.5px;top:531.3px;font-size:12px;letter-spacing:0.29px;">1.06亿</div>
<div class="t gy" style="left:679.5px;top:561.4px;font-size:12px;">0</div>
<div class="t " style="left:61.5px;top:323.7px;font-size:12px;letter-spacing:0.24px;color:#1f9c42">1.046</div>
<div class="t " style="left:529.3px;top:75.6px;font-size:12px;letter-spacing:0.24px;color:#f02a32">1.350</div>
<div class="t gy" style="left:32.0px;top:580.7px;font-size:12.5px;letter-spacing:0.50px;">25-07</div>
<div class="t gy" style="left:109.2px;top:580.7px;font-size:12.5px;letter-spacing:0.50px;">25-08</div>
<div class="t gy" style="left:436.7px;top:580.7px;font-size:12.5px;letter-spacing:0.50px;">25-09</div>
<div class="t w" style="left:24.5px;top:461.8px;font-size:12.5px;letter-spacing:0.08px;">AMO: 1.73亿</div>
<div class="t w" style="left:103.0px;top:461.8px;font-size:12.5px;letter-spacing:-0.04px;">MA(5): 1.95亿</div>
<div class="t " style="left:185.3px;top:461.8px;font-size:12.5px;letter-spacing:-0.01px;color:#ea8410">MA(10): 1.62亿</div>
<div class="t " style="left:275.6px;top:461.8px;font-size:12.5px;letter-spacing:-0.01px;color:#b93cc2">MA(20): 1.30亿</div>
<div class="abs" style="left:739px;top:1.5px;width:1px;height:596px;background:#3a3c43"></div>
<div class="abs" style="left:740px;top:1.5px;width:1.5px;height:596px;background:#0a0b0d"></div>
<div class="abs" style="left:741.5px;top:1.5px;width:1px;height:596px;background:#2c2e34"></div>
<div class="t" style="left:759.0px;top:4px;height:22px;line-height:22px;font-size:17px;font-weight:bold;color:#58aede;letter-spacing:0.29px;">有色50ETF</div>
<div class="r" style="right:5.9px;top:3px;height:24px;line-height:24px;font-size:21px;color:#d2d2d2;letter-spacing:0.08px;">159652</div>
<div class="t" style="left:757.3px;top:22.5px;height:36px;line-height:36px;font-size:35.5px;font-weight:bold;color:#20bb52;letter-spacing:0.21px;">1.282</div>
<div class="t" style="left:901.5px;top:31px;height:18px;line-height:18px;font-size:17.5px;font-weight:bold;color:#20bb52;letter-spacing:0.30px;">-0.028</div>
<div class="r" style="right:6.0px;top:31px;height:18px;line-height:18px;font-size:17.5px;font-weight:bold;color:#20bb52;letter-spacing:0.03px;">-2.14%</div>
<div class="t " style="left:756.5px;top:54.6px;font-size:12px;letter-spacing:0.03px;color:#a4a6ab">SZSE&nbsp; CNY&nbsp; 13:30:42&nbsp; 交易中</div>
<svg class="abs" style="left:971px;top:56.5px" width="12" height="11.5"><rect width="12" height="11.5" fill="#30333a"/><path d="M3 9l.6-2.4L8 2.2l1.8 1.8L5.4 8.4z" fill="#2cc0d8"/></svg>
<svg class="abs" style="left:988.5px;top:56.5px" width="12" height="11.5"><rect width="12" height="11.5" fill="#30333a"/><path d="M6 2a3 3 0 0 1 3 3v2.6l1 1.2H2l1-1.2V5a3 3 0 0 1 3-3zM5 9.4h2v.9H5z" fill="#2cc0d8"/></svg>
<svg class="abs" style="left:1006.5px;top:56.5px" width="12" height="11.5"><rect width="12" height="11.5" fill="#30333a"/><path d="M6 2.6v6.4M2.8 5.8h6.4" stroke="#2cc0d8" stroke-width="1.5"/></svg>
<div class="abs" style="left:751.5px;top:68.5px;width:272.5px;height:1px;background:#34363c"></div>
<div class="abs" style="left:742px;top:70px;width:282px;height:14px;overflow:hidden"><div class="t gy" style="left:15px;top:3.7px;font-size:13.4px">净值走势</div><div class="r w" style="right:13.5px;top:3.7px;font-size:13px">汇添富中证细分有色金属产业</div></div>
<div class="abs" style="left:742px;top:90px;width:282px;height:507px;overflow:hidden">
<div class="t w" style="left:15.0px;top:-5.7px;font-size:13px;font-weight:bold">实时申购赎回信息</div>
<div class="r gy" style="right:101.5px;top:-5.7px;font-size:13px;">申购</div>
<div class="r gy" style="right:12.0px;top:-5.7px;font-size:13px;">赎回</div>
<div class="t gy" style="left:15.2px;top:16.3px;font-size:13px;">笔数</div>
<div class="r w" style="right:101.6px;top:16.3px;font-size:14px;letter-spacing:-0.08px;">58</div>
<div class="r w" style="right:12.0px;top:16.3px;font-size:14px;">3</div>
<div class="t gy" style="left:15.2px;top:38.4px;font-size:13px;">金额</div>
<div class="r w" style="right:101.5px;top:38.4px;font-size:14px;">0</div>
<div class="r w" style="right:12.0px;top:38.4px;font-size:14px;">0</div>
<div class="t gy" style="left:15.2px;top:60.2px;font-size:13px;">份额</div>
<div class="r w" style="right:103.2px;top:60.2px;font-size:14px;letter-spacing:-0.21px;">5900万</div>
<div class="r w" style="right:12.7px;top:60.2px;font-size:14px;letter-spacing:-0.22px;">300万</div>
<div class="abs" style="left:13px;top:80px;width:260px;height:1px;background:#34363c"></div>
<div class="t w" style="left:13.0px;top:83.4px;font-size:13px;font-weight:bold">申赎清单</div>
<div class="r w" style="right:21.2px;top:83.9px;font-size:15px;letter-spacing:-1.3px;font-weight:bold">···</div>
<div class="t gy" style="left:15.6px;top:104.6px;font-size:13px;">最小申赎单位份额</div>
<div class="r w" style="right:11.8px;top:104.6px;font-size:14px;letter-spacing:-0.10px;">1,000,000</div>
<div class="t gy" style="left:15.6px;top:126.4px;font-size:13px;">现金替代比例上限</div>
<div class="r w" style="right:11.7px;top:126.4px;font-size:14px;letter-spacing:-0.02px;">50%</div>
<div class="t gy" style="left:15.6px;top:148.0px;font-size:13px;">申购赎回允许情况</div>
<div class="r w" style="right:11.7px;top:148.0px;font-size:13px;">申购赎回皆允许</div>
<div class="t gy" style="left:15.6px;top:170.0px;font-size:13px;letter-spacing:0.02px;">T日预估现金差额</div>
<div class="r w" style="right:11.5px;top:170.0px;font-size:14px;letter-spacing:0.22px;">-13410.09元</div>
<div class="t gy" style="left:15.6px;top:191.7px;font-size:13px;letter-spacing:0.22px;">T-1日单位申赎资产</div>
<div class="r w" style="right:11.7px;top:191.7px;font-size:14px;letter-spacing:0.05px;">1308218.91元</div>
<div class="abs" style="left:13px;top:210.5px;width:260px;height:1px;background:#34363c"></div>
<div class="t w" style="left:12.5px;top:213.9px;font-size:13px;letter-spacing:0.21px;font-weight:bold">近5日净流入</div>
<div class="r w" style="right:12.9px;top:213.9px;font-size:13px;letter-spacing:0.35px;font-weight:bold">单位(万元)</div>
<div class="abs" style="left:26.0px;top:360.1px;width:26px;height:10.9px;background:#f52832"></div>
<div class="t rd" style="left:9.1px;top:340.9px;width:60px;text-align:center;font-size:14px;letter-spacing:0.15px;">1681</div>
<div class="abs" style="left:78.0px;top:345.2px;width:26px;height:25.8px;background:#f52832"></div>
<div class="t rd" style="left:61.1px;top:325.7px;width:60px;text-align:center;font-size:14px;letter-spacing:0.15px;">3861</div>
<div class="abs" style="left:130.0px;top:282.1px;width:26px;height:88.9px;background:#f52832"></div>
<div class="t rd" style="left:113.2px;top:262.6px;width:60px;text-align:center;font-size:14px;letter-spacing:0.07px;">12925</div>
<div class="abs" style="left:182.0px;top:265.9px;width:26px;height:105.1px;background:#f52832"></div>
<div class="t rd" style="left:165.4px;top:246.4px;width:60px;text-align:center;font-size:14px;letter-spacing:0.07px;">15232</div>
<div class="abs" style="left:234.0px;top:286.0px;width:26px;height:85.0px;background:#f52832"></div>
<div class="t rd" style="left:217.3px;top:266.8px;width:60px;text-align:center;font-size:14px;letter-spacing:0.07px;">12342</div>
<div class="t" style="left:9.2px;top:390.0px;width:60px;text-align:center;font-size:14px;color:#c6c6c6;letter-spacing:0.87px;">9-11</div>
<div class="t" style="left:61.2px;top:390.0px;width:60px;text-align:center;font-size:14px;color:#c6c6c6;letter-spacing:0.52px;">9-12</div>
<div class="t" style="left:113.1px;top:390.0px;width:60px;text-align:center;font-size:14px;color:#c6c6c6;letter-spacing:0.52px;">9-15</div>
<div class="t" style="left:165.2px;top:390.0px;width:60px;text-align:center;font-size:14px;color:#c6c6c6;letter-spacing:0.52px;">9-16</div>
<div class="t" style="left:217.1px;top:390.0px;width:60px;text-align:center;font-size:14px;color:#c6c6c6;letter-spacing:0.52px;">9-17</div>
<div class="abs" style="left:13px;top:410.5px;width:260px;height:1px;background:#34363c"></div>
<div class="t gy" style="left:17.0px;top:416.3px;font-size:13px;">天数</div>
<div class="r gy" style="right:132.0px;top:416.3px;font-size:13px;">净流天</div>
<div class="r gy" style="right:72.7px;top:416.3px;font-size:13px;">净流额</div>
<div class="r gy" style="right:12.2px;top:416.3px;font-size:13px;">净流率</div>
<div class="t" style="left:15.3px;top:440.2px;width:30px;text-align:center;font-size:14px;color:#c6c6c6;letter-spacing:0px">5</div>
<div class="r rd" style="right:133.0px;top:440.2px;font-size:14px;">5</div>
<div class="r rd" style="right:73.2px;top:440.2px;font-size:14px;letter-spacing:0.02px;">46041</div>
<div class="r rd" style="right:12.9px;top:440.2px;font-size:14px;letter-spacing:-0.26px;">34.97%</div>
<div class="t" style="left:15.3px;top:463.1px;width:30px;text-align:center;font-size:14px;color:#c6c6c6;letter-spacing:0.6px">10</div>
<div class="r rd" style="right:133.0px;top:463.1px;font-size:14px;">9</div>
<div class="r rd" style="right:73.2px;top:463.1px;font-size:14px;letter-spacing:0.02px;">64578</div>
<div class="r rd" style="right:12.9px;top:463.1px;font-size:14px;letter-spacing:-0.26px;">57.38%</div>
<div class="t" style="left:15.3px;top:485.9px;width:30px;text-align:center;font-size:14px;color:#c6c6c6;letter-spacing:0.6px">20</div>
<div class="r rd" style="right:134.2px;top:485.9px;font-size:14px;letter-spacing:-1.20px;">17</div>
<div class="r rd" style="right:73.2px;top:485.9px;font-size:14px;letter-spacing:0.02px;">99250</div>
<div class="r rd" style="right:12.8px;top:485.9px;font-size:14px;letter-spacing:-0.21px;">141.24%</div>
</div>
<div class="t " style="left:741.0px;top:303.3px;font-size:14px;color:#9a9ca2">»</div>
<div class="abs" style="left:747.6px;top:83.2px;width:273.6px;height:514.6px;border:7px solid #ffff00"></div>
</body></html>
